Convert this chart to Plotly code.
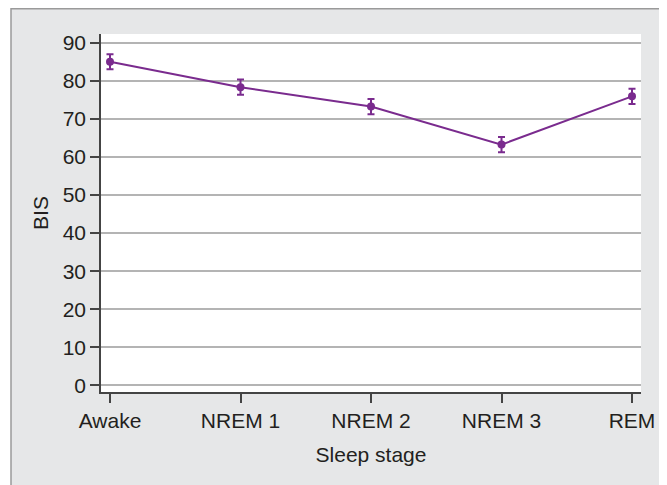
import plotly.graph_objects as go

stages = ["Awake", "NREM 1", "NREM 2", "NREM 3", "REM"]
bis_mean = [85.1, 78.4, 73.3, 63.3, 76.0]
bis_err = [2.0, 2.0, 2.0, 2.0, 2.0]
y_ticks = [0, 10, 20, 30, 40, 50, 60, 70, 80, 90]

purple = "#7a2b8e"
font_family = "Liberation Sans, Arial, sans-serif"

fig = go.Figure()
fig.add_trace(go.Scatter(
    x=list(range(len(stages))), y=bis_mean,
    mode="lines+markers",
    line=dict(color=purple, width=2),
    marker=dict(color=purple, size=8),
    error_y=dict(type="data", array=bis_err, visible=True,
                 color=purple, thickness=2, width=3.5),
    showlegend=False,
))

fig.update_layout(
    width=659, height=477,
    margin=dict(l=93, r=26, t=26, b=93),
    paper_bgcolor="white",
    plot_bgcolor="white",
    font=dict(family=font_family, size=21, color="#231f20"),
    shapes=[
        dict(type="rect", xref="paper", yref="paper", layer="below",
             x0=(11 - 101) / 540, x1=(662 - 101) / 540,
             y0=-0.4, y1=(392 - 8.75) / 358,
             fillcolor="#e6e7e8", line=dict(color="#9a9a9a", width=1.5)),
        dict(type="rect", xref="paper", yref="paper", layer="below",
             x0=0, x1=1, y0=0, y1=1,
             fillcolor="white", line=dict(width=0)),
    ],
    xaxis=dict(
        tickmode="array", tickvals=list(range(len(stages))), ticktext=stages,
        range=[-0.069, 4.069],
        showgrid=False, zeroline=False,
        showline=True, linecolor="#444", linewidth=1.5,
        ticks="outside", ticklen=9, tickwidth=1.5, tickcolor="#444",
        title=dict(text="Sleep stage", standoff=16, font=dict(size=21)),
        tickfont=dict(size=21),
    ),
    yaxis=dict(
        tickmode="array", tickvals=y_ticks,
        range=[-1.8, 92.4],
        showgrid=True, gridcolor="#b4b4b4", gridwidth=1.5,
        zeroline=False,
        showline=True, linecolor="#444", linewidth=1.5,
        ticks="outside", ticklen=9, tickwidth=1.5, tickcolor="#444",
        title=dict(text="BIS", standoff=8, font=dict(size=21)),
        tickfont=dict(size=21),
    ),
)

fig.write_html("out.html")
